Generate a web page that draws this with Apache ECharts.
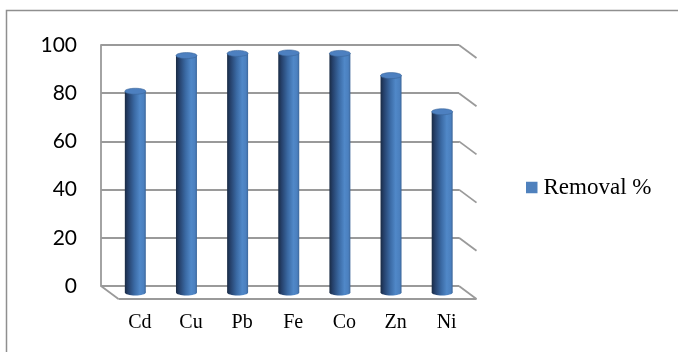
<!DOCTYPE html>
<html>
<head>
<meta charset="utf-8">
<script src="https://cdn.jsdelivr.net/npm/echarts@6/dist/echarts.min.js"></script>
<style>
html,body{margin:0;padding:0;background:#fff;}
#chart{width:678px;height:352px;}
</style>
</head>
<body>
<div id="chart"></div>
<script>
// ---- data ----
const categories = ['Cd', 'Cu', 'Pb', 'Fe', 'Co', 'Zn', 'Ni'];
const removal = [83.5, 98.3, 99.2, 99.4, 99.2, 90, 75];
const yTicks = [0, 20, 40, 60, 80, 100];
const seriesName = 'Removal %';

// ---- layout constants ----
const backLeft = 101, backTop = 45, backW = 358, backH = 241;
const depthX = 17.5, depthY = 13;
const gridColor = '#9a9a9a';

const chart = echarts.init(document.getElementById('chart'));

const bodyGrad = new echarts.graphic.LinearGradient(0, 0, 1, 0, [
  {offset: 0, color: '#1a2b44'},
  {offset: 0.15, color: '#25406a'},
  {offset: 0.45, color: '#3a69a3'},
  {offset: 0.72, color: '#5088c8'},
  {offset: 0.9, color: '#4b80bf'},
  {offset: 1, color: '#3c6699'}
]);

chart.setOption({
  animation: false,
  graphic: [{
    type: 'rect', shape: {x: 6.5, y: 10.5, width: 700, height: 400},
    style: {fill: 'none', stroke: '#8f8f8f', lineWidth: 1.5}, silent: true
  }],
  legend: {
    data: [seriesName],
    left: 526, top: 176, padding: 0,
    orient: 'vertical',
    icon: 'rect', itemWidth: 11.5, itemHeight: 11.5, itemGap: 0,
    textStyle: {fontFamily: "'Liberation Serif', serif", fontSize: 23, color: '#000', padding: [0, 0, 0, 1]}
  },
  grid: [
    {left: backLeft, top: backTop, width: backW, height: backH},
    {left: backLeft + depthX / 2, top: backTop + depthY / 2, width: backW, height: backH}
  ],
  xAxis: [
    {gridIndex: 0, type: 'value', min: 0, max: 1, show: false},
    {gridIndex: 1, type: 'category', data: categories,
      axisLine: {show: false}, axisTick: {show: false},
      axisLabel: {fontFamily: "'Liberation Serif', serif", fontSize: 20, color: '#000', margin: 20, padding: [0, 0, 0, 9]}}
  ],
  yAxis: [
    {gridIndex: 0, type: 'value', min: 0, max: 100, interval: 20,
      axisLine: {show: true, lineStyle: {color: gridColor, width: 1.8}},
      axisTick: {show: false},
      splitLine: {show: true, lineStyle: {color: gridColor, width: 1.8}},
      axisLabel: {fontFamily: 'Lato', fontSize: 21, color: '#000', margin: 24, padding: [6, 0, 0, 0]}},
    {gridIndex: 1, type: 'value', min: 0, max: 100, interval: 20, show: false}
  ],
  series: [
    {
      type: 'custom', xAxisIndex: 0, yAxisIndex: 0, silent: true,
      data: yTicks.map(v => [0, v]),
      renderItem: function (params, api) {
        const cs = params.coordSys;
        const p = api.coord([0, api.value(1)]);
        const right = cs.x + cs.width;
        const children = [{
          type: 'line',
          shape: {x1: right, y1: p[1], x2: right + depthX, y2: p[1] + depthY},
          style: {stroke: gridColor, lineWidth: 1.8}
        }];
        if (api.value(1) === 0) {
          children.push({type: 'line',
            shape: {x1: cs.x, y1: p[1], x2: cs.x + depthX, y2: p[1] + depthY},
            style: {stroke: gridColor, lineWidth: 1.8}});
          children.push({type: 'line',
            shape: {x1: cs.x + depthX, y1: p[1] + depthY, x2: right + depthX, y2: p[1] + depthY},
            style: {stroke: gridColor, lineWidth: 1.8}});
        }
        return {type: 'group', children: children};
      }
    },
    {
      name: seriesName,
      type: 'custom', xAxisIndex: 1, yAxisIndex: 1,
      itemStyle: {color: '#4f81bd'},
      data: removal.map((v, i) => [i, v]),
      renderItem: function (params, api) {
        const top = api.coord([api.value(0), api.value(1)]);
        const bot = api.coord([api.value(0), 0]);
        const w = api.size([1, 0])[0] * 0.41;
        const ry = 3;
        return {type: 'group', children: [
          {type: 'ellipse', shape: {cx: bot[0], cy: bot[1], rx: w / 2, ry: ry}, style: {fill: bodyGrad}},
          {type: 'rect', shape: {x: top[0] - w / 2, y: top[1], width: w, height: bot[1] - top[1]}, style: {fill: bodyGrad}},
          {type: 'ellipse', shape: {cx: top[0], cy: top[1], rx: w / 2, ry: ry},
            style: {fill: '#4d80c0', stroke: '#3a6599', lineWidth: 0.6}}
        ]};
      }
    }
  ]
});
</script>
</body>
</html>
